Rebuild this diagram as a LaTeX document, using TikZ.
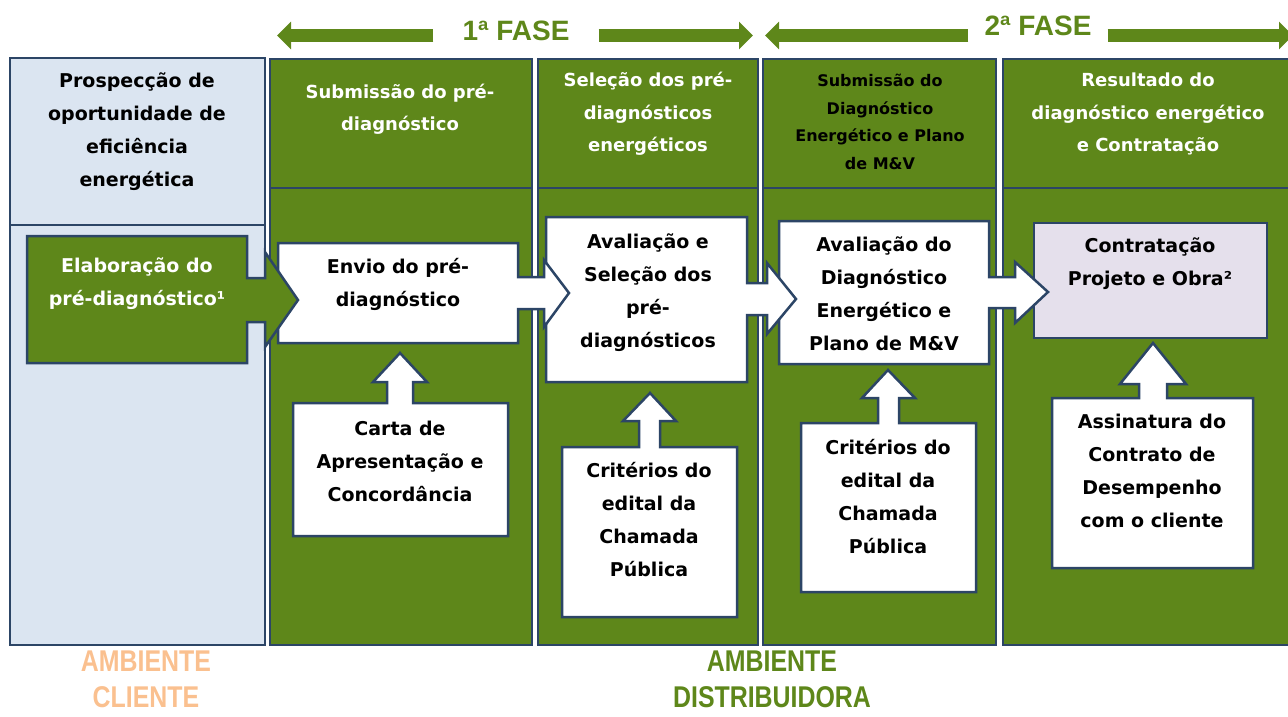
\documentclass[tikz,border=0pt]{standalone}
\usepackage{fontspec}
\setmainfont{DejaVu Sans}
\newfontfamily\narrowfont[FakeStretch=0.83]{Liberation Sans}
\newfontfamily\fasefont{Liberation Sans}
\usepackage{tikz}
\usetikzlibrary{positioning, arrows.meta}
\definecolor{leafgreen}{RGB}{94,135,26}
\definecolor{inkblue}{RGB}{44,69,102}
\definecolor{paleblue}{RGB}{219,229,241}
\definecolor{lavender}{RGB}{229,224,236}
\definecolor{peach}{RGB}{250,192,143}
\tikzstyle{greencol} = [draw=inkblue, line width=2.5pt, fill=leafgreen]
\tikzstyle{clientcol} = [draw=inkblue, line width=2.5pt, fill=paleblue]
\tikzstyle{whitecallout} = [draw=inkblue, line width=2.5pt, fill=white]
\tikzstyle{greencallout} = [draw=inkblue, line width=2.5pt, fill=leafgreen]
\tikzstyle{lavbox} = [draw=inkblue, line width=2.5pt, fill=lavender]
\tikzstyle{bodytext} = [align=center, text=black, font=\bfseries\fontsize{19}{33}\selectfont]
\tikzstyle{headtext} = [align=center, text=white, font=\bfseries\fontsize{18}{32.5}\selectfont]
\tikzstyle{smallhead} = [align=center, text=black, font=\bfseries\fontsize{16}{27.7}\selectfont]
\tikzstyle{fasetext} = [text=leafgreen, font=\fasefont\bfseries\fontsize{28}{30}\selectfont, inner ysep=0pt]
\tikzstyle{phasebar} = [leafgreen, line width=13pt, -{Triangle[length=14pt, width=27pt]}]
\tikzstyle{envtext} = [align=center, font=\narrowfont\bfseries\fontsize{30}{36}\selectfont]

\begin{document}
\begin{tikzpicture}[x=1pt, y=-1pt]
    \useasboundingbox (0,0) rectangle (1288,716);
    % columns
    \draw [clientcol] (10,58) rectangle (265,225);
    \draw [clientcol] (10,225) rectangle (265,645);
    \foreach \xa/\xb in {270/532, 538/758, 763/996, 1003/1296} {
        \draw [greencol] (\xa,59) rectangle (\xb,188);
        \draw [greencol] (\xa,188) rectangle (\xb,645);
    }
    % phase arrows
    \node (fase1) [fasetext, inner xsep=29pt] at (516,31) {1ª FASE};
    \node (fase2) [fasetext, inner xsep=16pt] at (1038,26) {2ª FASE};
    \coordinate (f1left) at (277,35.5);
    \coordinate (f1right) at (753,35.5);
    \coordinate (f2left) at (765,35.5);
    \coordinate (f2right) at (1293,35.5);
    \draw [phasebar] (f1left -| fase1.west) -- (f1left);
    \draw [phasebar] (f1right -| fase1.east) -- (f1right);
    \draw [phasebar] (f2left -| fase2.west) -- (f2left);
    \draw [phasebar] (f2right -| fase2.east) -- (f2right);
    % boxes, drawn right to left so each arrow head lies on the next box
    \draw [lavbox] (1034,223) rectangle (1267,338);
    \draw [whitecallout] (779,221) -- (989,221) -- (989,277) -- (1015,277) -- (1015,262) -- (1048,292)
        -- (1015,323) -- (1015,308) -- (989,308) -- (989,364) -- (779,364) -- cycle;
    \draw [whitecallout] (546,217) -- (747,217) -- (747,283) -- (767,283) -- (767,263) -- (796,299)
        -- (767,334) -- (767,315) -- (747,315) -- (747,382) -- (546,382) -- cycle;
    \draw [whitecallout] (278,243) -- (518,243) -- (518,277) -- (544,277) -- (544,260) -- (569,293)
        -- (544,327) -- (544,309) -- (518,309) -- (518,343) -- (278,343) -- cycle;
    \draw [greencallout] (27,236) -- (247,236) -- (247,278) -- (265,278) -- (265,252) -- (298,300)
        -- (265,347) -- (265,322) -- (247,322) -- (247,363) -- (27,363) -- cycle;
    % input boxes with up arrows
    \draw [whitecallout] (293,403) -- (387,403) -- (387,382) -- (373,382) -- (400,353) -- (427,382)
        -- (413,382) -- (413,403) -- (508,403) -- (508,536) -- (293,536) -- cycle;
    \draw [whitecallout] (562,447) -- (639,447) -- (639,421) -- (623,421) -- (650,393) -- (676,421)
        -- (660,421) -- (660,447) -- (737,447) -- (737,617) -- (562,617) -- cycle;
    \draw [whitecallout] (801,423) -- (878,423) -- (878,398) -- (862,398) -- (888,370) -- (915,398)
        -- (899,398) -- (899,423) -- (976,423) -- (976,592) -- (801,592) -- cycle;
    \draw [whitecallout] (1052,398) -- (1139,398) -- (1139,384) -- (1120,384) -- (1153,343) -- (1186,384)
        -- (1167,384) -- (1167,398) -- (1253,398) -- (1253,568) -- (1052,568) -- cycle;
    % header texts
    \node (prosp) [bodytext] at (137,132) {Prospecção de\\oportunidade de\\eficiência\\energética};
    \node (subpre) [headtext] at (400,109) {Submissão do pré-\\diagnóstico};
    \node (selpre) [headtext] at (648,114) {Seleção dos pré-\\diagnósticos\\energéticos};
    \node (subdiag) [smallhead] at (880,122) {Submissão do\\Diagnóstico\\Energético e Plano\\de M\&V};
    \node (result) [headtext] at (1148,114) {Resultado do\\diagnóstico energético\\e Contratação};
    % box texts
    \node (elab) [bodytext, text=white] at (137,284) {Elaboração do\\pré-diagnóstico¹};
    \node (envio) [bodytext] at (398,284) {Envio do pré-\\diagnóstico};
    \node (avsel) [bodytext] at (648,293) {Avaliação e\\Seleção dos\\pré-\\diagnósticos};
    \node (avdiag) [bodytext] at (884,294) {Avaliação do\\Diagnóstico\\Energético e\\Plano de M\&V};
    \node (contrat) [bodytext] at (1150,264) {Contratação\\Projeto e Obra²};
    \node (carta) [bodytext] at (400,461) {Carta de\\Apresentação e\\Concordância};
    \node (crit1) [bodytext] at (649,520) {Critérios do\\edital da\\Chamada\\Pública};
    \node (crit2) [bodytext] at (888,497) {Critérios do\\edital da\\Chamada\\Pública};
    \node (assin) [bodytext] at (1152,471) {Assinatura do\\Contrato de\\Desempenho\\com o cliente};
    % environment labels
    \node (ambcli) [envtext, text=peach] at (146,679) {AMBIENTE\\CLIENTE};
    \node (ambdist) [envtext, text=leafgreen] at (772,679) {AMBIENTE\\DISTRIBUIDORA};
\end{tikzpicture}
\end{document}
